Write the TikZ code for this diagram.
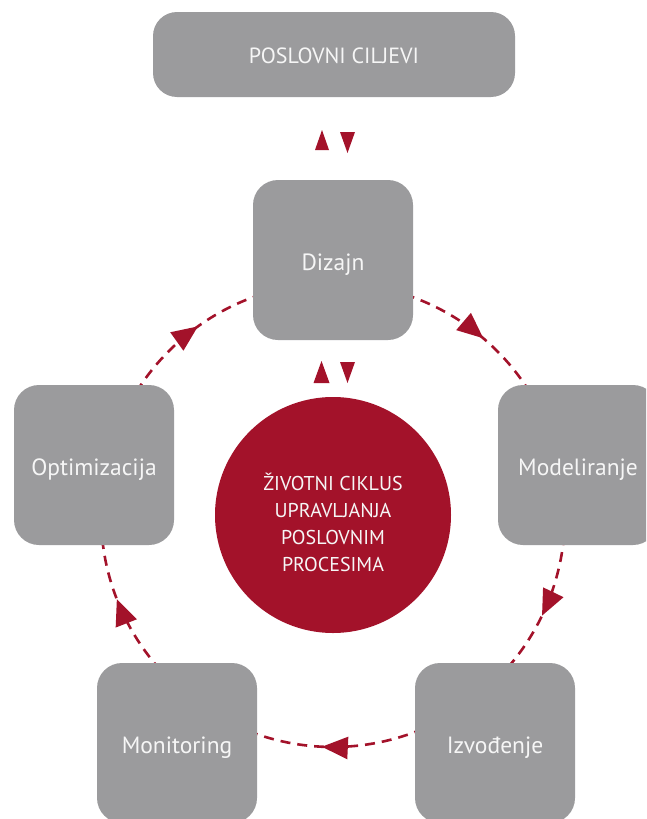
\documentclass[tikz,border=0pt]{standalone}
\usepackage{fontspec}
\setmainfont{PT Sans}
\usetikzlibrary{arrows.meta,decorations.markings}
\definecolor{boxgray}{HTML}{9B9B9D}
\definecolor{bpmred}{HTML}{A3122A}
\definecolor{boxtext}{HTML}{F6F6F6}
\tikzset{
  grbox/.style={fill=boxgray, rounded corners=25pt, minimum width=160pt, minimum height=160pt,
    inner sep=0pt, text=boxtext, font=\fontsize{23.5}{26}\selectfont,
    text height=21pt, text depth=0pt},
  cyc/.style={draw=bpmred, line width=2.6pt, dash pattern=on 10pt off 7pt,
    postaction={decorate},
    decoration={markings, mark=at position 0.56 with {\arrow[solid]{Triangle[length=26pt,width=22pt]}}}},
  tri/.style={fill=bpmred}
}
\begin{document}
\begin{tikzpicture}[x=1pt,y=1pt]
\useasboundingbox (0,0) rectangle (646,-819);
\clip (0,0) rectangle (646,-819);
\coordinate (c) at (333,-515);
% cycle arcs
\draw[cyc] ([shift={(c)}]72:232pt) arc (72:32:232pt);
\draw[cyc] ([shift={(c)}]-5:232pt) arc (-5:-42:232pt);
\draw[cyc] ([shift={(c)}]-67:232pt) arc (-67:-113:232pt);
\draw[cyc] ([shift={(c)}]222:232pt) arc (222:185:232pt);
\draw[cyc] ([shift={(c)}]148:232pt) arc (148:108:232pt);
% boxes
\node[grbox, minimum width=362pt, minimum height=85pt, rounded corners=24pt,
  font=\fontsize{22}{25}\selectfont, text height=18pt] (goals) at (334,-54.5) {POSLOVNI CILJEVI};
\node[grbox] (dz) at (333,-260) {Dizajn};
\node[grbox] (op) at (94,-465) {Optimizacija};
\node[grbox] (md) at (578,-465) {Modeliranje};
\node[grbox] (mo) at (177,-743) {Monitoring};
\node[grbox] (iz) at (495,-743) {Izvođenje};
\node[circle, fill=bpmred, minimum size=236pt, inner sep=0pt] (bpm) at (c) {};
\node[text=boxtext, align=center, inner sep=0pt, font=\fontsize{20}{27}\selectfont]
  (bpmtext) at ([yshift=-7pt]c) {ŽIVOTNI CIKLUS\\UPRAVLJANJA\\POSLOVNIM\\PROCESIMA};
% double arrowheads
\fill[tri] (315,-150) -- (329,-150) -- (322,-130) -- cycle;
\fill[tri] (340,-132) -- (355,-132) -- (347.5,-153) -- cycle;
\fill[tri] (313.5,-383) -- (329.5,-383) -- (321.5,-361) -- cycle;
\fill[tri] (340,-362) -- (355,-362) -- (347.5,-383) -- cycle;
\end{tikzpicture}
\end{document}
